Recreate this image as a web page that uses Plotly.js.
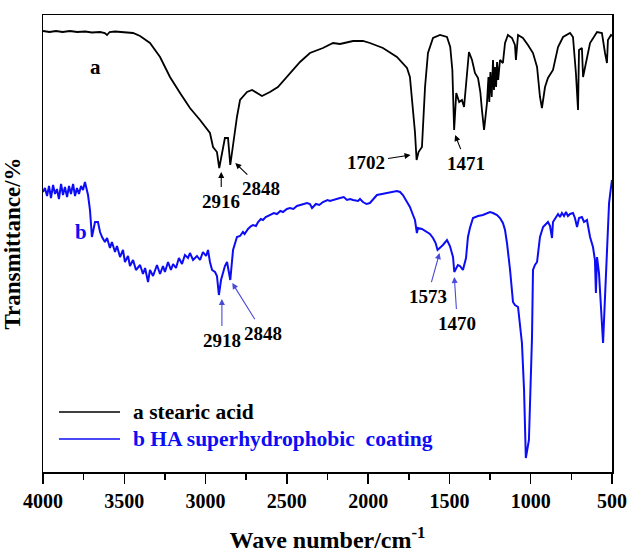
<!DOCTYPE html>
<html><head><meta charset="utf-8">
<script src="https://cdn.plot.ly/plotly-3.0.1.min.js"></script>
<style>html,body{margin:0;padding:0;background:#fff}</style>
</head><body><div id="chart" style="width:630px;height:553px"></div>
<script>
// Curve a: stearic acid
const waveA = [4000,3960,3920,3880,3834,3790,3740,3700,3649,3620,3606,3590,3557,3500,3446,3403,3342,3280,3219,3157,3096,3034,2973,2954,2930,2916,2881,2862,2848,2807,2788,2745,2714,2653,2604,2555,2481,2419,2358,2278,2216,2173,2093,2032,1989,1909,1823,1761,1743,1724,1712,1702,1690,1669,1650,1632,1601,1558,1515,1495,1482,1471,1458,1440,1423,1410,1392,1380,1361,1343,1324,1310,1300,1287,1269,1260,1255,1248,1240,1232,1226,1220,1213,1207,1200,1189,1171,1158,1140,1115,1097,1091,1078,1048,1017,986,961,943,931,912,894,863,832,801,758,740,722,709,703,685,678,654,635,592,562,543,531,525,506,500];
const transA = [441,440,441,440,441,440,440.5,439.5,440,439,437,440,440.5,440,439,436,429,415,395,379,364,352,339,325,320,304,334,334,307,355,372,380,382,376,380,385,399,410,419,424,429,428,431,431,429,424,415,404,395,365,340,312,320,325,385,419,434,437,435,425,402,342,379,370,372,365,399,420,412,399,394,380,362,342,369,395,370,400,375,412,382,405,385,410,392,412,409,429,437,434,427,412,437,434,427,419,405,375,364,385,394,402,425,435,439,435,399,362,422,424,395,415,429,440,439,419,409,432,437,436];

// Curve b: HA superhydrophobic coating
const waveB = [4000,3988,3975,3963,3951,3938,3926,3914,3902,3889,3877,3865,3852,3840,3828,3815,3803,3791,3779,3766,3754,3742,3723,3711,3699,3680,3662,3649,3637,3619,3606,3588,3576,3557,3545,3526,3508,3496,3477,3465,3446,3428,3403,3385,3372,3354,3342,3323,3299,3280,3262,3250,3231,3213,3200,3182,3164,3145,3127,3108,3096,3077,3053,3034,3016,2997,2985,2973,2960,2942,2930,2918,2905,2893,2881,2868,2848,2831,2807,2788,2770,2760,2739,2720,2708,2690,2677,2660,2647,2630,2604,2580,2561,2540,2524,2500,2481,2460,2438,2400,2376,2358,2345,2321,2300,2278,2250,2235,2200,2173,2150,2130,2110,2093,2062,2050,2032,2010,1989,1971,1946,1915,1884,1854,1823,1804,1786,1761,1743,1724,1712,1700,1694,1669,1638,1620,1601,1585,1573,1540,1515,1497,1478,1470,1448,1435,1417,1398,1386,1374,1355,1324,1294,1269,1251,1232,1207,1189,1171,1158,1146,1127,1109,1097,1078,1066,1054,1041,1035,1030,1011,1004,992,986,974,961,943,924,894,881,869,863,845,832,820,808,795,783,771,758,740,728,715,703,685,672,654,635,617,605,599,592,580,568,555,543,531,525,518,506,500];
const transB = [280,284,276,286,274,287,278,283,273,288,277,285,275,286,278,288,276,284,278,286,282,290,277,262,235,250,250,240,235,230,234,224,230,220,226,215,222,210,216,206,212,202,207,198,204,190,202,196,207,198,206,200,210,202,208,204,214,208,217,214,219,212,216,212,220,216,222,210,202,200,196,177,192,199,206,210,192,222,235,236,240,238,243,246,247,246,250,253,252,255,257,259,258,261,260,263,264,263,266,268,269,268,264,268,267,270,272,271,273,274,275,272,273,272,271,273,270,268,269,272,277,278,279,280,281,280,277,270,265,257,252,239,244,243,240,238,234,229,222,227,232,226,215,200,207,206,202,214,235,244,254,256,257,259,260,259,257,254,249,242,229,202,170,167,165,147,129,82,49,14,32,69,135,202,207,210,235,245,250,246,234,250,254,258,255,259,256,260,256,258,259,254,245,254,255,250,252,235,225,212,179,215,199,169,129,175,215,242,269,285,292];

const serif = 'Liberation Serif, Times New Roman, serif';
const blue = '#0c0cf5';

// peak labels: [wavenumber, label, headDx, headDy, textDx, textDy] (pixel offsets)
const peaksA = [[2916,'2916',2,4,2,33],[2848,'2848',5,-2,31,23],[1702,'1702',-6,-5,-51,2],[1471,'1471',1,5,12,33]];
const peaksB = [[2918,'2918',3,4,3,45],[2848,'2848',2,3,33,53],[1573,'1573',2,3,-10,46],[1470,'1470',0,5,3,51]];

function valAt(ws, ts, w){ return ts[ws.indexOf(w)]; }

const annotations = [];
function addPeaks(list, ws, ts, arrowColor){
  list.forEach(p=>{
    const [w,label,hdx,hdy,tdx,tdy] = p;
    const y = valAt(ws, ts, w);
    annotations.push({x:w, y:y, xref:'x', yref:'y', text:label, showarrow:true, arrowhead:2, arrowsize:1.1, arrowwidth:1.1,
      arrowcolor:arrowColor, ax:tdx-hdx, ay:tdy-hdy, xshift:hdx, yshift:-hdy, standoff:0, startstandoff:2,
      font:{family:serif, size:19, weight:'bold', color:'#000'}});
  });
}
addPeaks(peaksA, waveA, transA, '#000');
addPeaks(peaksB, waveB, transB, '#4a4ad8');

// curve labels
annotations.push({xref:'paper', yref:'paper', x:(88-43)/569, y:1-(53-15)/457, text:'a', showarrow:false, font:{family:serif,size:21,weight:'bold',color:'#000'}});
annotations.push({xref:'paper', yref:'paper', x:(73-43)/569, y:1-(232-15)/457, text:'b', showarrow:false, font:{family:serif,size:21,weight:'bold',color:blue}});

// legend
const legendNames = ['a stearic acid','b HA superhydrophobic\u00a0 coating'];
const legendColors = ['#000', blue];
const legendY = [412, 439];
const shapes = [];
legendNames.forEach((n,i)=>{
  const yp = 1-(legendY[i]-15)/457;
  shapes.push({type:'line', xref:'paper', yref:'paper', x0:(59-43)/569, x1:(120-43)/569, y0:yp, y1:yp, line:{color:legendColors[i], width:1.5}});
  annotations.push({xref:'paper', yref:'paper', x:(131-43)/569, y:yp, xanchor:'left', yanchor:'middle', text:n, showarrow:false,
    font:{family:serif,size:21.5,weight:'bold',color:legendColors[i]}});
});

const traces = [
  {x:waveA, y:transA, type:'scatter', mode:'lines', name:'a stearic acid', line:{color:'#000', width:1.8}, showlegend:false},
  {x:waveB, y:transB, type:'scatter', mode:'lines', name:'b HA superhydrophobic coating', line:{color:blue, width:2}, showlegend:false}
];

const layout = {
  width:630, height:553,
  margin:{l:43, r:18, t:15, b:81},
  paper_bgcolor:'#fff', plot_bgcolor:'#fff',
  showlegend:false,
  xaxis:{range:[4000,500], tickvals:[4000,3500,3000,2500,2000,1500,1000,500], ticks:'outside', ticklen:10, tickwidth:1.5, tickcolor:'#000',
    minor:{dtick:250, ticks:'outside', ticklen:6, tickwidth:1.5, tickcolor:'#000', showgrid:false},
    showline:true, linewidth:1.5, linecolor:'#000', mirror:true, showgrid:false, zeroline:false,
    tickfont:{family:serif, size:20, weight:'bold', color:'#000'},
    title:{text:'Wave number/cm<sup>-1</sup>', font:{family:serif, size:24, weight:'bold', color:'#000'}, standoff:22}},
  yaxis:{range:[0,457], showticklabels:false, ticks:'', showline:true, linewidth:1.5, linecolor:'#000', mirror:true, showgrid:false, zeroline:false,
    title:{text:'Transmittance/%', font:{family:serif, size:23, weight:'bold', color:'#000'}, standoff:14}},
  annotations:annotations,
  shapes:shapes
};
Plotly.newPlot('chart', traces, layout, {displayModeBar:false, staticPlot:true});
</script>
</body></html>
